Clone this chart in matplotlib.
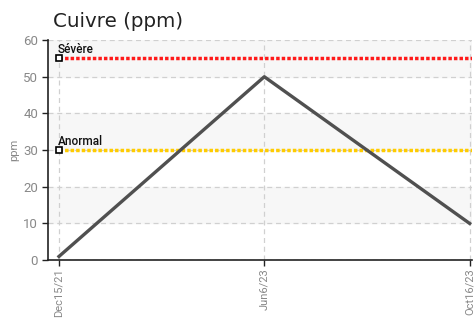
import matplotlib
matplotlib.use("Agg")
from matplotlib import pyplot as plt

# Data
dates = ["Dec15/21", "Jun6/23", "Oct16/23"]
values = [1, 50, 10]
severe_level = 55
abnormal_level = 30
y_ticks = [0, 10, 20, 30, 40, 50, 60]

tick_font = ["Roboto", "DejaVu Sans"]

fig = plt.figure(figsize=(4.74, 3.18), dpi=100)
ax = fig.add_axes([0.101, 0.182, 0.895, 0.692])

x = list(range(len(dates)))

# alternating bands
for lo in range(10, 60, 20):
    ax.axhspan(lo, lo + 10, color="#f7f7f7", zorder=0)

ax.grid(True, linestyle=(0, (4, 3)), color="#d0d0d0", linewidth=0.9, zorder=1)

# threshold lines
ax.plot([x[0], x[-1] + 0.02], [severe_level] * 2, color="#ff1a1a", linestyle=(0, (1, 0.6)), linewidth=2.5, zorder=2)
ax.plot([x[0], x[-1] + 0.02], [abnormal_level] * 2, color="#ffcc00", linestyle=(0, (1, 0.6)), linewidth=2.5, zorder=2)
ax.plot([x[0]], [severe_level], marker="s", markersize=4.5, markerfacecolor="white", markeredgecolor="black", markeredgewidth=1.2, zorder=4)
ax.plot([x[0]], [abnormal_level], marker="s", markersize=4.5, markerfacecolor="white", markeredgecolor="black", markeredgewidth=1.2, zorder=4)
ax.text(x[0] - 0.005, severe_level + 1.4, "Sévère", fontsize=8.5, family=tick_font, weight="medium", color="#111111", zorder=5)
ax.text(x[0] - 0.005, abnormal_level + 1.4, "Anormal", fontsize=8.5, family=tick_font, weight="medium", color="#111111", zorder=5)

# main series
ax.plot(x, values, color="#505050", linewidth=2.4, zorder=3)

ax.set_xlim(-0.054, 2.012)
ax.set_ylim(0, 60)
ax.set_xticks(x)
ax.set_xticklabels(dates, rotation=90, family=tick_font, fontsize=8, color="#888888")
ax.set_yticks(y_ticks)
ax.set_yticklabels([str(v) for v in y_ticks], family=tick_font, fontsize=9.5, color="#888888")
ax.tick_params(axis="both", direction="out", length=4, width=1, color="#222222", pad=3)
ax.tick_params(axis="x", pad=2)
ax.set_ylabel("ppm", fontsize=8, color="#888888", family=tick_font)
ax.yaxis.set_label_coords(-0.068, 0.5)

for side in ["top", "right"]:
    ax.spines[side].set_visible(False)
ax.spines["left"].set_color("#222222")
ax.spines["bottom"].set_color("#222222")
ax.spines["left"].set_linewidth(1.2)
ax.spines["bottom"].set_linewidth(1.2)

fig.text(0.112, 0.915, "Cuivre (ppm)", fontsize=14.3, color="#222222", family="DejaVu Sans")

fig.savefig("out.png", dpi=100)
